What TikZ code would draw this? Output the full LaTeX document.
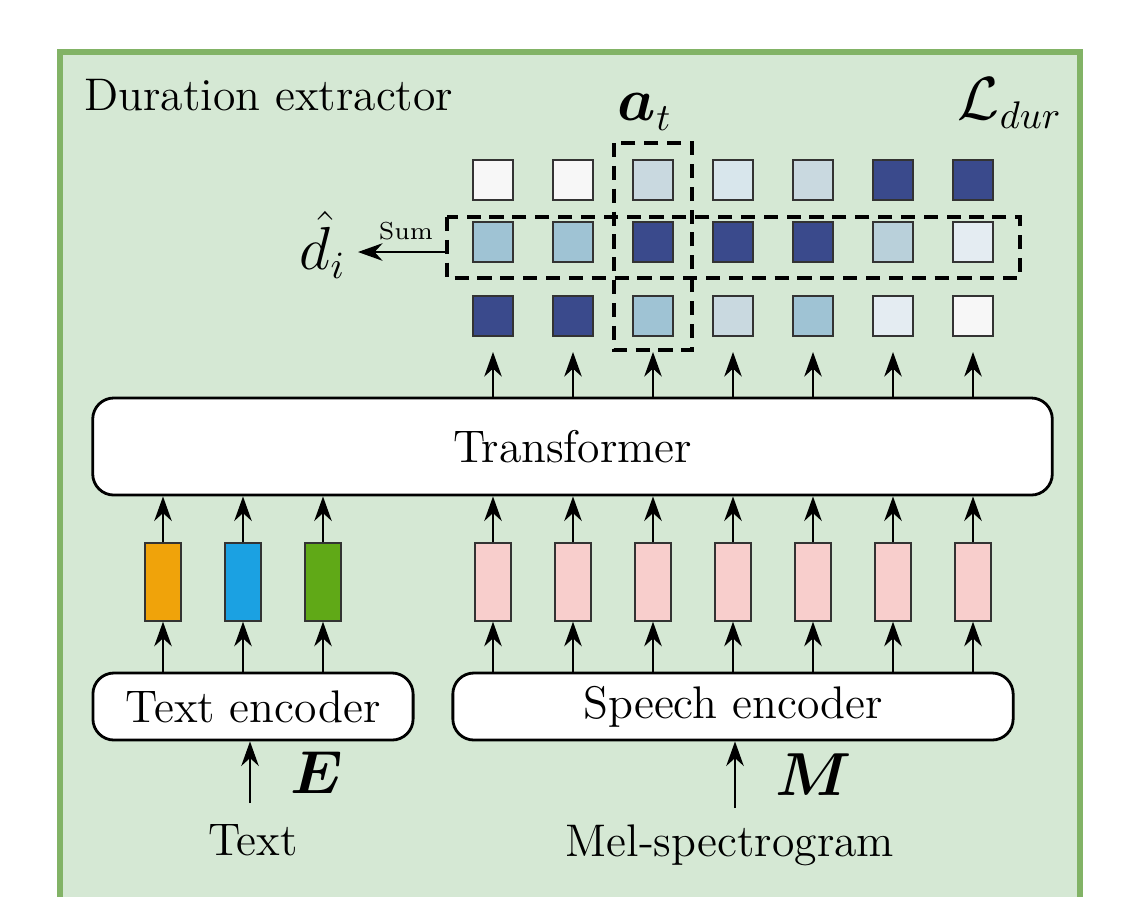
\documentclass[tikz,border=0pt]{standalone}
\usepackage{amsmath,bm}
\usetikzlibrary{arrows.meta,positioning}
\definecolor{bgfill}{HTML}{D5E8D4}
\definecolor{bgline}{HTML}{82B366}
\definecolor{cW}{HTML}{F7F7F7}
\definecolor{cA}{HTML}{C9D9E0}
\definecolor{cB}{HTML}{D8E6EC}
\definecolor{cC}{HTML}{9FC3D4}
\definecolor{cD}{HTML}{3A4A8C}
\definecolor{cE}{HTML}{B9D0DA}
\definecolor{cF}{HTML}{E4ECF2}
\definecolor{tokO}{HTML}{F0A30A}
\definecolor{tokB}{HTML}{1BA1E2}
\definecolor{tokG}{HTML}{60A917}
\definecolor{tokP}{HTML}{F8CECC}
\begin{document}
\begin{tikzpicture}[x=0.01cm,y=-0.01cm,>={Stealth[length=7pt,width=5pt]},
  font=\fontsize{13}{15}\selectfont]
  \tikzset{cell/.style={draw=black!80,minimum size=0.4cm,inner sep=0pt},
    tok/.style={draw=black!80,minimum width=0.36cm,minimum height=0.78cm,inner sep=0pt},
    block/.style={draw,thick,rounded corners=6pt,fill=white,inner sep=0pt},
    dashbox/.style={draw,line width=1pt,dash pattern=on 4pt off 2.5pt},
    sym/.style={font=\fontsize{16}{18}\selectfont}}
  \useasboundingbox (0,0) rectangle (1140,896);
  \draw[bgline,fill=bgfill,line width=1.5pt] (60,52) rectangle (1080,905);
  \node[anchor=west] (title) at (72,95) {Duration extractor};
  \node[sym] (loss) at (1010,103) {$\mathcal{L}_{dur}$};
  % attention cells
  \foreach \c [count=\i] in {cW,cW,cA,cB,cA,cD,cD}
    \node[cell,fill=\c] (r1\i) at ({413+80*\i},180) {};
  \foreach \c [count=\i] in {cC,cC,cD,cD,cD,cE,cF}
    \node[cell,fill=\c] (r2\i) at ({413+80*\i},242) {};
  \foreach \c [count=\i] in {cD,cD,cC,cA,cC,cF,cW}
    \node[cell,fill=\c] (r3\i) at ({413+80*\i},316) {};
  \draw[dashbox] (614,143) rectangle (692,350);
  \draw[dashbox] (447,217) rectangle (1020,278);
  \node[sym] (at) at (645,112) {$\bm{a}_t$};
  \coordinate (sumin) at (445,252);
  \node[sym,anchor=east] (di) at (358,245) {$\hat{d}_i$};
  \draw[->] (sumin) -- (sumin -| di.east) node[pos=0.45,above,font=\fontsize{7}{8}\selectfont] {Sum};
  % transformer
  \node[block,minimum width=9.59cm,minimum height=0.97cm] (trans) at (572.5,446.5) {Transformer};
  \foreach \i in {1,...,7}
    \draw[->] ({413+80*\i},398) -- ({413+80*\i},352);
  % tokens
  \foreach \c [count=\i] in {tokO,tokB,tokG}
    \node[tok,fill=\c] (t\i) at ({83+80*\i},582) {};
  \foreach \i in {1,...,7}
    \node[tok,fill=tokP] (s\i) at ({413+80*\i},582) {};
  \node[block,minimum width=3.2cm,minimum height=0.67cm] (tenc) at (253,706.5) {Text encoder};
  \node[block,minimum width=5.6cm,minimum height=0.67cm] (senc) at (733,706.5) {Speech encoder};
  \foreach \i in {1,2,3} {
    \draw[->] (t\i.north) -- (t\i.north |- trans.south);
    \draw[->] (t\i.south |- tenc.north) -- (t\i.south);
  }
  \foreach \i in {1,...,7} {
    \draw[->] (s\i.north) -- (s\i.north |- trans.south);
    \draw[->] (s\i.south |- senc.north) -- (s\i.south);
  }
  % inputs
  \node (text) at (253,840) {Text};
  \node (mel) at (730,845) {Mel-spectrogram};
  \coordinate (ein) at (250,803);
  \coordinate (min) at (735,808);
  \draw[->] (ein) -- (ein |- tenc.south) node[sym,pos=0.5,right=8pt] {$\bm{E}$};
  \draw[->] (min) -- (min |- senc.south) node[sym,pos=0.5,right=8pt] {$\bm{M}$};
\end{tikzpicture}
\end{document}
